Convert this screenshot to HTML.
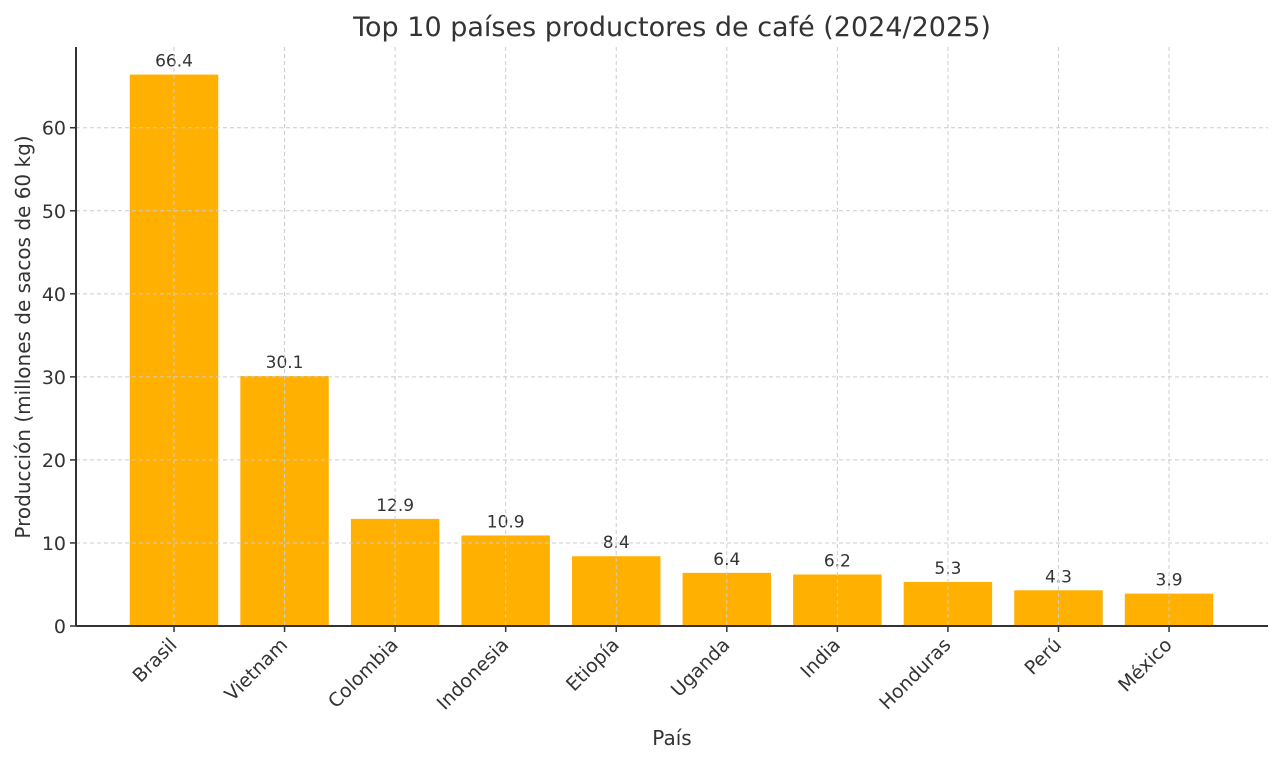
<!DOCTYPE html>
<html><head><meta charset="utf-8"><style>
html,body{margin:0;padding:0;background:#fff;}
svg{display:block;font-family:"DejaVu Sans","Liberation Sans",sans-serif;}
</style></head><body>
<svg id="chart" width="1280" height="763">
<text x="672" y="36" text-anchor="middle" font-size="27" fill="#333">Top 10 países productores de café (2024/2025)</text>
<g id="grid"></g>
<g id="bars"></g>
<g id="gridTop"></g>
<g id="axes"></g>
<text x="672" y="745" text-anchor="middle" font-size="20" fill="#333">País</text>
<text transform="translate(30,337) rotate(-90)" text-anchor="middle" font-size="20" fill="#333">Producción (millones de sacos de 60 kg)</text>
</svg>
<script>
const categories=["Brasil","Vietnam","Colombia","Indonesia","Etiopía","Uganda","India","Honduras","Perú","México"];
const values=[66.4,30.1,12.9,10.9,8.4,6.4,6.2,5.3,4.3,3.9];
const valueLabels=["66.4","30.1","12.9","10.9","8.4","6.4","6.2","5.3","4.3","3.9"];
const yTicks=[0,10,20,30,40,50,60];
const NS="http://www.w3.org/2000/svg";
const L=76,R=1268,B=626,T=47;
const yMax=Math.max(...values)*1.05;
const y=v=>B-(v/yMax)*(B-T);
const step=110.56, first=174;
const x=i=>first+i*step;
const bw=step*0.8;
function mk(tag,attrs,parent,txt){const e=document.createElementNS(NS,tag);for(const k in attrs)e.setAttribute(k,attrs[k]);if(txt!==undefined)e.textContent=txt;parent.appendChild(e);return e;}
const grid=document.getElementById('gridTop'),bars=document.getElementById('bars'),axes=document.getElementById('axes');
yTicks.forEach(t=>{
 const g=mk('line',{x1:L,x2:R,y1:y(t),y2:y(t),stroke:'#ccc','stroke-width':1,'stroke-dasharray':'4,3'},grid);
 
 
 mk('line',{x1:L-6,x2:L,y1:y(t),y2:y(t),stroke:'#333','stroke-width':1.5},axes);
 const lb=mk('text',{x:L-10,y:y(t)+7,'text-anchor':'end','font-size':19,fill:'#333'},axes,String(t));
 
 
});
categories.forEach((c,i)=>{
 const g=mk('line',{x1:x(i),x2:x(i),y1:T,y2:B,stroke:'#ccc','stroke-width':1,'stroke-dasharray':'4,3'},grid);
 
 
 const r=mk('rect',{x:x(i)-bw/2,y:y(values[i]),width:bw,height:B-y(values[i]),fill:'#FFB000'},bars);
 
 
 const v=mk('text',{x:x(i),y:y(values[i])-8,'text-anchor':'middle','font-size':17,fill:'#333'},bars,valueLabels[i]);
 
 
 mk('line',{x1:x(i),x2:x(i),y1:B,y2:B+6,stroke:'#333','stroke-width':1.5},axes);
 const t=mk('text',{transform:`translate(${x(i)+4},${B+20}) rotate(-45)`,'text-anchor':'end','font-size':19,fill:'#333'},axes,c);
 
 
});
mk('line',{x1:L,x2:L,y1:T,y2:B,stroke:'#333','stroke-width':2},axes);
mk('line',{x1:L,x2:R,y1:B,y2:B,stroke:'#333','stroke-width':2},axes);
</script>
</body></html>
